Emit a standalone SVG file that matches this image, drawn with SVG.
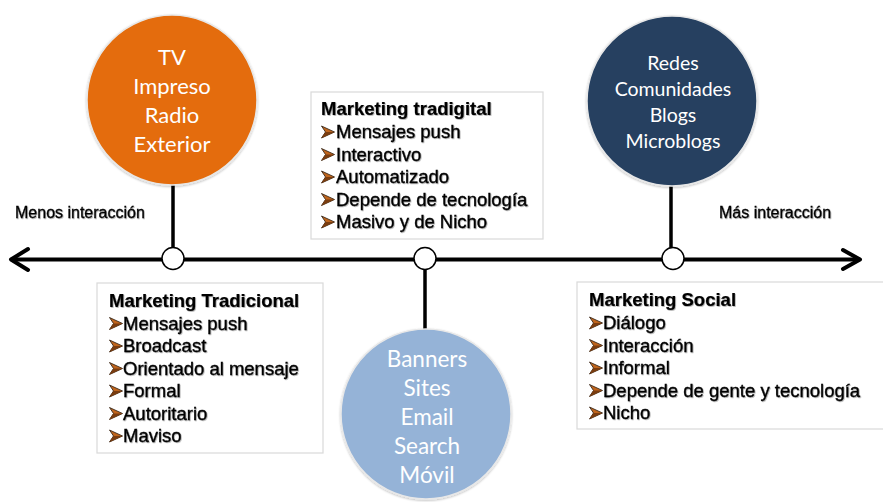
<svg xmlns="http://www.w3.org/2000/svg" width="883" height="502" viewBox="0 0 883 502">
<defs>
<filter id="ts" x="-5%" y="-20%" width="110%" height="140%">
<feDropShadow dx="0.8" dy="0.8" stdDeviation="0.5" flood-color="#000" flood-opacity="0.35"/>
</filter>
<filter id="cs" x="-10%" y="-10%" width="120%" height="120%">
<feDropShadow dx="0" dy="1" stdDeviation="1" flood-color="#000" flood-opacity="0.25"/>
</filter>
<symbol id="bul" viewBox="0 0 14 13" overflow="visible">
<polygon points="0.5,0.5 13.5,6.5 0.5,12.5 4.5,6.5" fill="#c0651c" stroke="#3b2a1c" stroke-width="0.9" stroke-linejoin="miter"/>
<polygon points="4.5,6.5 13.5,6.5 0.5,12.5" fill="#7a3d10"/>
</symbol>
</defs>
<style>
.box{fill:#fff;stroke:#d9d9d9;stroke-width:1.2}
.t{font-family:"Liberation Sans",Arial,sans-serif;font-size:18.5px;fill:#000;stroke:#000;stroke-width:0.35;filter:url(#ts)}
.h{font-weight:bold;stroke-width:0.2}
.lab{font-family:"Liberation Sans",Arial,sans-serif;font-size:16px;fill:#000;stroke:#000;stroke-width:0.3;filter:url(#ts)}
.ct{font-family:Lato,"Open Sans",sans-serif;fill:#fff;text-anchor:middle}
.ln{stroke:#000;stroke-width:4;fill:none;stroke-linecap:round;stroke-linejoin:round}
.vl{stroke:#000;stroke-width:3.5}
.dot{fill:#fff;stroke:#000;stroke-width:1.5}
.circ{stroke:#e8e8e8;stroke-width:1.5;filter:url(#cs)}
</style>

<g id="connectors">
<line class="ln" x1="12" y1="259.5" x2="859" y2="259.5"/>
<polyline class="ln" points="28,249 11,259.5 28,270"/>
<polyline class="ln" points="843,250 860,259.5 843,269"/>
<line class="vl" x1="173" y1="184" x2="173" y2="249"/>
<line class="vl" x1="425" y1="269" x2="425" y2="330"/>
<line class="vl" x1="671" y1="186" x2="671" y2="249"/>
</g>

<g id="dot-left"><circle class="dot" cx="173" cy="258.5" r="11"/></g>
<g id="dot-center"><circle class="dot" cx="425" cy="258.5" r="11"/></g>
<g id="dot-right"><circle class="dot" cx="673" cy="258.5" r="11"/></g>

<g id="circle-tradicional">
<circle class="circ" cx="172" cy="100" r="85" fill="#e46c0a"/>
<text class="ct" x="172" y="65" font-size="22">TV</text>
<text class="ct" x="172" y="94" font-size="22">Impreso</text>
<text class="ct" x="172" y="123" font-size="22">Radio</text>
<text class="ct" x="172" y="152" font-size="22">Exterior</text>
</g>

<g id="circle-social">
<circle class="circ" cx="672" cy="101" r="85" fill="#254061"/>
<text class="ct" x="673" y="70" font-size="19.5">Redes</text>
<text class="ct" x="673" y="96" font-size="19.5">Comunidades</text>
<text class="ct" x="673" y="122" font-size="19.5">Blogs</text>
<text class="ct" x="673" y="148" font-size="19.5">Microblogs</text>
</g>

<g id="circle-digital">
<circle class="circ" cx="426" cy="414" r="85" fill="#95b3d7"/>
<text class="ct" x="427" y="367" font-size="22.5" fill="#f4f7fb">Banners</text>
<text class="ct" x="427" y="396" font-size="22.5" fill="#f4f7fb">Sites</text>
<text class="ct" x="427" y="425" font-size="22.5" fill="#f4f7fb">Email</text>
<text class="ct" x="427" y="454" font-size="22.5" fill="#f4f7fb">Search</text>
<text class="ct" x="427" y="483" font-size="22.5" fill="#f4f7fb">Móvil</text>
</g>

<g id="label-menos"><text class="lab" x="15" y="218">Menos interacción</text></g>
<g id="label-mas"><text class="lab" x="719" y="218">Más interacción</text></g>

<g id="box-tradicional">
<rect class="box" x="97" y="283" width="226" height="170"/>
<text class="t h" x="109" y="306.5">Marketing Tradicional</text>
<use href="#bul" x="109" y="317" width="14" height="13"/><text class="t" x="123" y="329.5">Mensajes push</text>
<use href="#bul" x="109" y="339.5" width="14" height="13"/><text class="t" x="123" y="352">Broadcast</text>
<use href="#bul" x="109" y="362" width="14" height="13"/><text class="t" x="123" y="374.5">Orientado al mensaje</text>
<use href="#bul" x="109" y="384.5" width="14" height="13"/><text class="t" x="123" y="397">Formal</text>
<use href="#bul" x="109" y="407" width="14" height="13"/><text class="t" x="123" y="419.5">Autoritario</text>
<use href="#bul" x="109" y="429.5" width="14" height="13"/><text class="t" x="123" y="442">Maviso</text>
</g>

<g id="box-tradigital">
<rect class="box" x="311" y="92" width="232" height="147"/>
<text class="t h" x="321" y="115">Marketing tradigital</text>
<use href="#bul" x="321" y="125.5" width="14" height="13"/><text class="t" x="336" y="138">Mensajes push</text>
<use href="#bul" x="321" y="148" width="14" height="13"/><text class="t" x="336" y="160.5">Interactivo</text>
<use href="#bul" x="321" y="170.5" width="14" height="13"/><text class="t" x="336" y="183">Automatizado</text>
<use href="#bul" x="321" y="193" width="14" height="13"/><text class="t" x="336" y="205.5">Depende de tecnología</text>
<use href="#bul" x="321" y="215.5" width="14" height="13"/><text class="t" x="336" y="228">Masivo y de Nicho</text>
</g>

<g id="box-social">
<rect class="box" x="577" y="282" width="320" height="147"/>
<text class="t h" x="589" y="306">Marketing Social</text>
<use href="#bul" x="589" y="316.5" width="14" height="13"/><text class="t" x="603" y="329">Diálogo</text>
<use href="#bul" x="589" y="339" width="14" height="13"/><text class="t" x="603" y="351.5">Interacción</text>
<use href="#bul" x="589" y="361.5" width="14" height="13"/><text class="t" x="603" y="374">Informal</text>
<use href="#bul" x="589" y="384" width="14" height="13"/><text class="t" x="603" y="396.5">Depende de gente y tecnología</text>
<use href="#bul" x="589" y="406.5" width="14" height="13"/><text class="t" x="603" y="419">Nicho</text>
</g>
</svg>
